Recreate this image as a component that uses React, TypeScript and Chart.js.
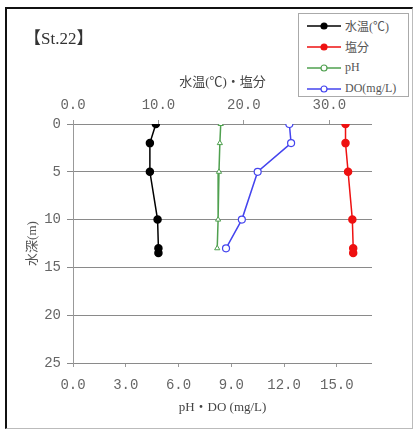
import React, { useEffect, useRef } from "react";
import { Chart, registerables } from "chart.js";

Chart.register(...registerables);

const depths = [0, 2, 5, 10, 13, 13.5];
const waterTemp = [9.7, 9.0, 9.0, 9.9, 10.0, 10.0];
const salinity = [31.9, 31.9, 32.2, 32.7, 32.8, 32.8];
const phDepths = [0, 2, 5, 10, 13];
const ph = [8.4, 8.35, 8.3, 8.25, 8.2];
const dissolvedO2 = [12.3, 12.4, 10.5, 9.6, 8.7];

const stationTitle = "【St.22】";
const seriesNames = ["水温(℃)", "塩分", "pH", "DO(mg/L)"];
const seriesColors = ["#000000", "#ee1111", "#4fa04f", "#4444ee"];
const topAxisTitle = "水温(℃)・塩分";
const bottomAxisTitle = "pH・DO (mg/L)";
const depthAxisTitle = "水深(m)";

const FONT = "'Liberation Serif', 'Noto Sans CJK JP', serif";
const TICK_FONT = "'Liberation Mono', 'Noto Sans CJK JP', monospace";

function LegendRow({ name, color, filled }: { name: string; color: string; filled: boolean }) {
  return (
    <div style={{ display: "flex", alignItems: "center", height: 21 }}>
      <svg width={34} height={10} style={{ marginLeft: 8, marginRight: 4 }}>
        <line x1={0} y1={5} x2={34} y2={5} stroke={color} strokeWidth={1.5} />
        <circle cx={17} cy={5} r={3} fill={filled ? color : "#fff"} stroke={color} strokeWidth={1.2} />
      </svg>
      <span style={{ fontSize: 12, color: "#555", fontFamily: FONT }}>{name}</span>
    </div>
  );
}

export default function App() {
  const ref = useRef<HTMLCanvasElement | null>(null);

  useEffect(() => {
    if (!ref.current) return;
    const pts = (xs: number[], ds: number[]) => xs.map((v, i) => ({ x: v, y: ds[i] }));
    const chart = new Chart(ref.current, {
      type: "line",
      data: {
        datasets: [
          {
            label: seriesNames[0],
            data: pts(waterTemp, depths),
            xAxisID: "x2",
            yAxisID: "y",
            borderColor: seriesColors[0],
            backgroundColor: seriesColors[0],
            borderWidth: 1.5,
            pointRadius: 3.5,
            pointStyle: "circle",
          },
          {
            label: seriesNames[1],
            data: pts(salinity, depths),
            xAxisID: "x2",
            yAxisID: "y",
            borderColor: seriesColors[1],
            backgroundColor: seriesColors[1],
            borderWidth: 1.5,
            pointRadius: 3.5,
            pointStyle: "circle",
          },
          {
            label: seriesNames[2],
            data: pts(ph, phDepths),
            xAxisID: "x",
            yAxisID: "y",
            borderColor: seriesColors[2],
            backgroundColor: "#ffffff",
            borderWidth: 1.5,
            pointRadius: 3,
            pointBorderWidth: 1,
            pointStyle: "triangle",
          },
          {
            label: seriesNames[3],
            data: pts(dissolvedO2, phDepths),
            xAxisID: "x",
            yAxisID: "y",
            borderColor: seriesColors[3],
            backgroundColor: "#ffffff",
            borderWidth: 1.5,
            pointRadius: 3.5,
            pointBorderWidth: 1.2,
            pointStyle: "circle",
          },
        ],
      },
      options: {
        animation: false,
        responsive: false,
        maintainAspectRatio: false,
        layout: { padding: { left: 0, right: 42, top: 0, bottom: 0 } },
        plugins: { legend: { display: false }, tooltip: { enabled: false } },
        scales: {
          x: {
            type: "linear",
            position: "bottom",
            min: 0,
            max: 17,
            afterFit: (s: any) => {
              s.height = 66;
            },
            ticks: {
              stepSize: 3,
              includeBounds: false,
              padding: 10,
              color: "#666",
              font: { family: TICK_FONT, size: 14 },
              callback: (v: any) => Number(v).toFixed(1),
            },
            grid: { drawOnChartArea: false, drawTicks: true, tickLength: 4, color: "#999" },
            border: { display: false },
            title: {
              display: true,
              text: bottomAxisTitle,
              color: "#444",
              font: { family: FONT, size: 13 },
              padding: { top: 0, bottom: 14 },
            },
          },
          x2: {
            type: "linear",
            position: "top",
            min: 0,
            max: 35,
            afterFit: (s: any) => {
              s.height = 124;
            },
            ticks: {
              stepSize: 10,
              includeBounds: false,
              padding: 6,
              color: "#666",
              font: { family: TICK_FONT, size: 14 },
              callback: (v: any) => Number(v).toFixed(1),
            },
            grid: { drawOnChartArea: false, drawTicks: true, tickLength: 4, color: "#999" },
            border: { display: false },
            title: {
              display: true,
              text: topAxisTitle,
              color: "#444",
              font: { family: FONT, size: 13 },
              padding: { top: 75, bottom: 0 },
            },
          },
          y: {
            type: "linear",
            position: "left",
            reverse: true,
            min: 0,
            max: 25,
            afterFit: (s: any) => {
              s.width = 73;
            },
            ticks: {
              stepSize: 5,
              padding: 6,
              color: "#666",
              font: { family: TICK_FONT, size: 14 },
            },
            grid: { color: "#8a8a8a", lineWidth: 1, tickLength: 6 },
            border: { display: true, color: "#999" },
            title: {
              display: true,
              text: depthAxisTitle,
              color: "#555",
              font: { family: FONT, size: 13 },
              padding: { top: 25, bottom: 0 },
            },
          },
        },
      },
    });
    return () => chart.destroy();
  }, []);

  return (
    <div style={{ position: "fixed", left: 0, top: 0, width: 414, height: 429, background: "#fff", overflow: "hidden" }}>
      <div
        style={{
          position: "absolute",
          left: 5,
          top: 7,
          width: 405,
          height: 419,
          borderLeft: "2px solid #111",
          borderTop: "2px solid #111",
          borderRight: "1px solid #bbb",
          borderBottom: "1px solid #bbb",
        }}
      />
      <canvas ref={ref} width={414} height={429} style={{ position: "absolute", left: 0, top: 0 }} />
      <div
        style={{
          position: "absolute",
          left: 24,
          top: 24,
          fontSize: 17,
          fontFamily: FONT,
          color: "#333",
        }}
      >
        {stationTitle}
      </div>
      <div
        style={{
          position: "absolute",
          left: 298,
          top: 13,
          width: 111,
          height: 84,
          border: "1px solid #aaa",
          background: "#fff",
          boxSizing: "border-box",
          paddingTop: 1,
        }}
      >
        {seriesNames.map((n, i) => (
          <LegendRow key={n} name={n} color={seriesColors[i]} filled={i < 2} />
        ))}
      </div>
    </div>
  );
}
